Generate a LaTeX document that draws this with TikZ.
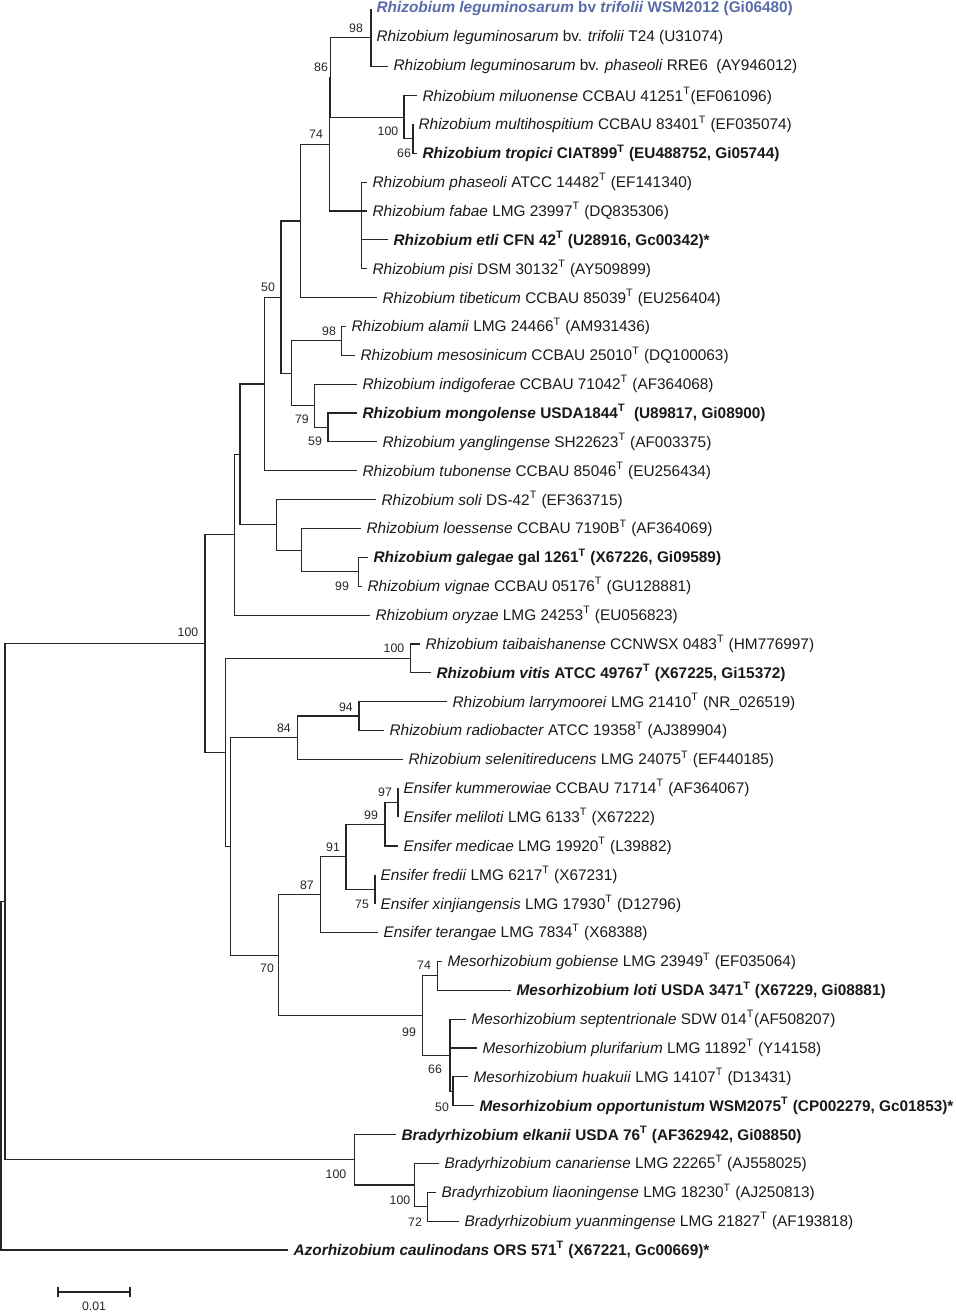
\documentclass[tikz,border=0pt]{standalone}
\usepackage{fontspec}
\setmainfont{Liberation Sans}
\definecolor{leafblue}{RGB}{88,108,170}
\newcommand{\typ}{\textsuperscript{T}}
\begin{document}
\begin{tikzpicture}[x=0.02cm,y=-0.02cm,
  branch/.style={line width=0.65pt,draw=black!85},
  leaf/.style={anchor=west,inner xsep=3pt,inner ysep=0pt,font=\fontsize{8.75}{10}\selectfont,text=black!90},
  boot/.style={inner sep=0pt,font=\fontsize{7}{8}\selectfont,text=black!85}]
\useasboundingbox (0,0) rectangle (956,1313);
% leaves: number / tip x / label
\foreach \i/\tip/\lab in {
  1/371/{\color{leafblue}\bfseries\textit{Rhizobium leguminosarum} bv \textit{trifolii} WSM2012 (Gi06480)},
  2/371/{\textit{Rhizobium leguminosarum} bv. \textit{trifolii} T24 (U31074)},
  3/388/{\textit{Rhizobium leguminosarum} bv. \textit{phaseoli} RRE6\ \ (AY946012)},
  4/417/{\textit{Rhizobium miluonense} CCBAU 41251\typ(EF061096)},
  5/413/{\textit{Rhizobium multihospitium} CCBAU 83401\typ{} (EF035074)},
  6/417/{\bfseries\textit{Rhizobium tropici} CIAT899\typ{} (EU488752, Gi05744)},
  7/367/{\textit{Rhizobium phaseoli} ATCC 14482\typ{} (EF141340)},
  8/367/{\textit{Rhizobium fabae} LMG 23997\typ{} (DQ835306)},
  9/388/{\bfseries\textit{Rhizobium etli} CFN 42\typ{} (U28916, Gc00342)*},
  10/367/{\textit{Rhizobium pisi} DSM 30132\typ{} (AY509899)},
  11/377/{\textit{Rhizobium tibeticum} CCBAU 85039\typ{} (EU256404)},
  12/346/{\textit{Rhizobium alamii} LMG 24466\typ{} (AM931436)},
  13/355/{\textit{Rhizobium mesosinicum} CCBAU 25010\typ{} (DQ100063)},
  14/357/{\textit{Rhizobium indigoferae} CCBAU 71042\typ{} (AF364068)},
  15/357/{\bfseries\textit{Rhizobium mongolense} USDA1844\typ\ \ (U89817, Gi08900)},
  16/377/{\textit{Rhizobium yanglingense} SH22623\typ{} (AF003375)},
  17/357/{\textit{Rhizobium tubonense} CCBAU 85046\typ{} (EU256434)},
  18/376/{\textit{Rhizobium soli} DS-42\typ{} (EF363715)},
  19/361/{\textit{Rhizobium loessense} CCBAU 7190B\typ{} (AF364069)},
  20/368/{\bfseries\textit{Rhizobium galegae} gal 1261\typ{} (X67226, Gi09589)},
  21/362/{\textit{Rhizobium vignae} CCBAU 05176\typ{} (GU128881)},
  22/370/{\textit{Rhizobium oryzae} LMG 24253\typ{} (EU056823)},
  23/420/{\textit{Rhizobium taibaishanense} CCNWSX 0483\typ{} (HM776997)},
  24/431/{\bfseries\textit{Rhizobium vitis} ATCC 49767\typ{} (X67225, Gi15372)},
  25/447/{\textit{Rhizobium larrymoorei} LMG 21410\typ{} (NR\_026519)},
  26/384/{\textit{Rhizobium radiobacter} ATCC 19358\typ{} (AJ389904)},
  27/403/{\textit{Rhizobium selenitireducens} LMG 24075\typ{} (EF440185)},
  28/398/{\textit{Ensifer kummerowiae} CCBAU 71714\typ{} (AF364067)},
  29/398/{\textit{Ensifer meliloti} LMG 6133\typ{} (X67222)},
  30/398/{\textit{Ensifer medicae} LMG 19920\typ{} (L39882)},
  31/375/{\textit{Ensifer fredii} LMG 6217\typ{} (X67231)},
  32/375/{\textit{Ensifer xinjiangensis} LMG 17930\typ{} (D12796)},
  33/378/{\textit{Ensifer terangae} LMG 7834\typ{} (X68388)},
  34/442/{\textit{Mesorhizobium gobiense} LMG 23949\typ{} (EF035064)},
  35/511/{\bfseries\textit{Mesorhizobium loti} USDA 3471\typ{} (X67229, Gi08881)},
  36/466/{\textit{Mesorhizobium septentrionale} SDW 014\typ(AF508207)},
  37/477/{\textit{Mesorhizobium plurifarium} LMG 11892\typ{} (Y14158)},
  38/468/{\textit{Mesorhizobium huakuii} LMG 14107\typ{} (D13431)},
  39/474/{\bfseries\textit{Mesorhizobium opportunistum} WSM2075\typ{} (CP002279, Gc01853)*},
  40/396/{\bfseries\textit{Bradyrhizobium elkanii} USDA 76\typ{} (AF362942, Gi08850)},
  41/439/{\textit{Bradyrhizobium canariense} LMG 22265\typ{} (AJ558025)},
  42/436/{\textit{Bradyrhizobium liaoningense} LMG 18230\typ{} (AJ250813)},
  43/459/{\textit{Bradyrhizobium yuanmingense} LMG 21827\typ{} (AF193818)},
  44/288/{\bfseries\textit{Azorhizobium caulinodans} ORS 571\typ{} (X67221, Gc00669)*}
}{
  \node[leaf] (l\i) at (\tip,{9+(\i-1)*28.86}) {\lab};
}
% inner nodes
\coordinate (n98) at (371,37.9);
\coordinate (n66) at (413,138.85);
\coordinate (n100m) at (404,117.2);
\coordinate (n86) at (330.4,77.55);
\coordinate (nP) at (361.4,211);
\coordinate (n74) at (329.3,144.3);
\coordinate (nA) at (300.7,220.95);
\coordinate (n98b) at (341.6,340.9);
\coordinate (n59) at (328,427.45);
\coordinate (n79) at (314.8,405.8);
\coordinate (nC) at (291.8,373.35);
\coordinate (nB) at (281,297.15);
\coordinate (nW) at (264.3,383.98);
\coordinate (n99g) at (358.8,571.75);
\coordinate (nH) at (301.4,550.1);
\coordinate (nG) at (276.5,524.85);
\coordinate (nV) at (240,454.4);
\coordinate (nU) at (234.4,534.75);
\coordinate (n100t) at (410.5,658.35);
\coordinate (n94) at (359,716.05);
\coordinate (n84) at (297.6,737.7);
\coordinate (n97) at (398,802.65);
\coordinate (n99e) at (385,824.3);
\coordinate (n75) at (375,889.25);
\coordinate (n91) at (346,856.8);
\coordinate (n87) at (320.5,894.65);
\coordinate (n74m) at (437.5,975.8);
\coordinate (n50m) at (453,1091.25);
\coordinate (n66m) at (450,1055.2);
\coordinate (n99m) at (422.4,1015.5);
\coordinate (n70) at (278.8,955.1);
\coordinate (nM) at (230.8,846.4);
\coordinate (nL) at (225.3,752.4);
\coordinate (n100) at (205,643.6);
\coordinate (n72) at (427.7,1206.7);
\coordinate (n100l) at (414.5,1185.05);
\coordinate (n100b) at (354.8,1159.8);
\coordinate (nR1) at (5,901.7);
\coordinate (nRoot) at (1,1075.85);
% branches: parent / child
\foreach \p/\c in {n98/l1.west,n98/l2.west,n98/l3.west,n86/n98,n86/n100m,
  n100m/l4.west,n100m/n66,n66/l5.west,n66/l6.west,n74/n86,n74/nP,
  nP/l7.west,nP/l8.west,nP/l9.west,nP/l10.west,nA/n74,nA/l11.west,
  nB/nA,nB/nC,nC/n98b,nC/n79,n98b/l12.west,n98b/l13.west,n79/l14.west,
  n79/n59,n59/l15.west,n59/l16.west,nW/nB,nW/l17.west,nV/nW,nV/nG,
  nG/l18.west,nG/nH,nH/l19.west,nH/n99g,n99g/l20.west,n99g/l21.west,
  nU/nV,nU/l22.west,n100/nU,n100/nL,nL/n100t,nL/nM,n100t/l23.west,
  n100t/l24.west,nM/n84,nM/n70,n84/n94,n84/l27.west,n94/l25.west,
  n94/l26.west,n70/n87,n70/n99m,n87/n91,n87/l33.west,n91/n99e,n91/n75,
  n99e/n97,n99e/l30.west,n97/l28.west,n97/l29.west,n75/l31.west,
  n75/l32.west,n99m/n74m,n99m/n66m,n74m/l34.west,n74m/l35.west,
  n66m/l36.west,n66m/l37.west,n66m/n50m,n50m/l38.west,n50m/l39.west,
  nR1/n100,nR1/n100b,n100b/l40.west,n100b/n100l,n100l/l41.west,
  n100l/n72,n72/l42.west,n72/l43.west,nRoot/nR1,nRoot/l44.west}{
  \draw[branch] (\p) |- (\c);
}
% bootstrap values
\foreach \nm/\x/\y/\v in {b1/356/28/98,b2/321/67/86,b3/388/131/100,b4/404/153/66,
  b5/316/134/74,b6/268/287/50,b7/329/331/98,b8/302/419/79,b9/315/441/59,
  b10/342/586/99,b11/188/632/100,b12/394/648/100,b13/346/707/94,b14/284/728/84,
  b15/385/792/97,b16/371/815/99,b17/333/847/91,b18/307/885/87,b19/362/904/75,
  b20/267/968/70,b21/424/965/74,b22/409/1032/99,b23/435/1069/66,b24/442/1107/50,
  b25/336/1174/100,b26/400/1200/100,b27/415/1222/72}{
  \node[boot] (\nm) at (\x,\y) {\v};
}
% scale bar
\coordinate (sb1) at (58,1292);
\coordinate (sb2) at (130,1292);
\draw[branch] (sb1) -- (sb2);
\draw[branch] (sb1) ++(0,-5) -- ++(0,10);
\draw[branch] (sb2) ++(0,-5) -- ++(0,10);
\node[boot] (sblab) at (94,1306) {0.01};
\end{tikzpicture}
\end{document}
